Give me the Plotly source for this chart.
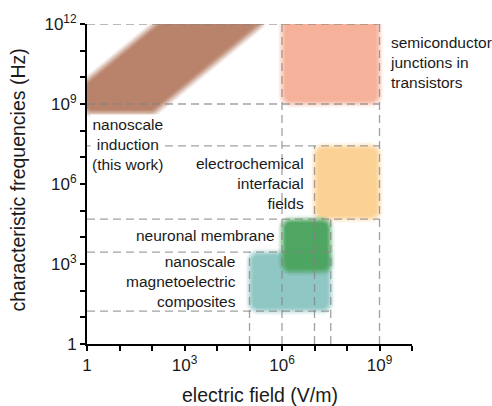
import numpy as np
import plotly.graph_objects as go

# ---------------- data ----------------
# nanoscale induction region (polygon corners, E in V/m, f in Hz)
nano_E = [0.8, 112, 7.08e5, 355, 0.8]
nano_f = [4.47e8, 4.47e8, 2.82e12, 2.82e12, 6.31e9]

# rectangular regions: E range and f range
rect_names = ["semiconductor", "electrochemical", "magnetoelectric", "neuronal"]
rect_E_lo = [1e6, 1e7, 1e5, 1e6]
rect_E_hi = [1e9, 1e9, 3.16e7, 3.16e7]
rect_f_lo = [1e9, 4.8e4, 17, 500]
rect_f_hi = [3e12, 2.7e7, 2.8e3, 4.8e4]

# dashed guide lines
hguide_f = [1e12, 1e9, 2.7e7, 4.8e4, 2.8e3, 17]
hguide_E_end = [1e9, 1e9, 1e9, 1e9, 3.16e7, 3.16e7]
vguide_E = [1e5, 1e6, 1e7, 3.16e7, 1e9]
vguide_f_end = [2.8e3, 1e12, 2.7e7, 4.8e4, 1e12]

x_tickvals = [10.0 ** k for k in range(0, 11)]
x_ticktext = ["1", "", "", "10<sup>3</sup>", "", "", "10<sup>6</sup>", "", "", "10<sup>9</sup>", ""]
y_tickvals = [10.0 ** k for k in range(0, 13)]
y_ticktext = ["1", "", "", "10<sup>3</sup>", "", "", "10<sup>6</sup>", "", "",
              "10<sup>9</sup>", "", "", "10<sup>12</sup>"]

# ---------------- styling ----------------
W, H = 492, 406
ML, MT = 87, 19
PW, PH = 325, 325
PX_X = PW / 10.0   # pixels per decade
PX_Y = PH / 12.0

col_nano = (183, 128, 105)
rect_cols = [(245, 176, 152), (251, 209, 146), (142, 198, 196), (76, 165, 96)]

FONT = "Liberation Sans, Arial, Helvetica, sans-serif"


def to_px(E, f):
    return np.log10(np.asarray(E, float)) * PX_X, np.log10(np.asarray(f, float)) * PX_Y


def from_px(u, v):
    return 10 ** (np.asarray(u) / PX_X), 10 ** (np.asarray(v) / PX_Y)


def offset_convex(pts, d):
    n = len(pts)
    lines = []
    for i in range(n):
        p, q = pts[i], pts[(i + 1) % n]
        e = q - p
        e = e / np.hypot(*e)
        nrm = np.array([e[1], -e[0]])
        lines.append((p + d * nrm, e))
    out = []
    for i in range(n):
        (p1, e1), (p2, e2) = lines[i - 1], lines[i]
        A = np.array([e1, -e2]).T
        t = np.linalg.solve(A, p2 - p1)
        out.append(p1 + t[0] * e1)
    return np.array(out)


def rounded_poly(pts, r, d):
    core = offset_convex(pts, -r)
    R = max(r + d, 0.0)
    n = len(core)
    out = []
    for i in range(n):
        pprev, p, pnext = core[i - 1], core[i], core[(i + 1) % n]
        e0 = p - pprev
        e1 = pnext - p
        n0 = np.arctan2(-e0[0], e0[1])
        n1 = np.arctan2(-e1[0], e1[1])
        if n1 < n0:
            n1 += 2 * np.pi
        for th in np.linspace(n0, n1, 10):
            out.append(p + R * np.array([np.cos(th), np.sin(th)]))
    out.append(out[0])
    return np.array(out)


# soft-edge layers (pixel offset, cumulative opacity)
offs = [4.0, 2.5, 1.0, -0.5, -2.0, -3.5]
cum = [0.1, 0.3, 0.5, 0.7, 0.88, 0.985]
alphas = []
prev = 0.0
for c in cum:
    alphas.append(1 - (1 - c) / (1 - prev))
    prev = c

fig = go.Figure()


def add_region(E, f, color, r=9.0):
    u, v = to_px(E, f)
    pts = np.column_stack([u, v])
    for d, a in zip(offs, alphas):
        poly = rounded_poly(pts, r, d)
        xe, yf = from_px(poly[:, 0], poly[:, 1])
        fig.add_trace(go.Scatter(
            x=xe, y=yf, mode="lines", fill="toself",
            line=dict(width=0, color="rgba(0,0,0,0)"),
            fillcolor="rgba(%d,%d,%d,%.3f)" % (color + (a,)),
            hoverinfo="skip", showlegend=False))


add_region(nano_E, nano_f, col_nano, r=8.0)
for i in range(len(rect_names)):
    E = [rect_E_lo[i], rect_E_hi[i], rect_E_hi[i], rect_E_lo[i]]
    f = [rect_f_lo[i], rect_f_lo[i], rect_f_hi[i], rect_f_hi[i]]
    add_region(E, f, rect_cols[i], r=9.0)

# guides
gx, gy = [], []
for fv, ee in zip(hguide_f, hguide_E_end):
    gx += [1, ee, None]
    gy += [fv, fv, None]
for ev, fe in zip(vguide_E, vguide_f_end):
    gx += [ev, ev, None]
    gy += [1, fe, None]
fig.add_trace(go.Scatter(x=gx, y=gy, mode="lines",
                         line=dict(color="rgba(130,130,130,0.75)", width=1.3, dash="8px,5px"),
                         hoverinfo="skip", showlegend=False, cliponaxis=False))


def px2paper(px, py):
    return (px - ML) / PW, (MT + PH - py) / PH


annots = [
    ("nanoscale<br>induction<br>(this work)", 127, 141, "center", "center", True),
    ("semiconductor<br>junctions in<br>transistors", 388, 58.5, "left", "left", False),
    ("electrochemical<br>interfacial<br>fields", 306, 180.5, "right", "right", False),
    ("neuronal membrane", 277, 233.5, "right", "right", False),
    ("nanoscale<br>magnetoelectric<br>composites", 238, 281, "right", "right", False),
]
for txt, px, py, xa, al, bg in annots:
    ax_, ay_ = px2paper(px, py)
    fig.add_annotation(text=txt, x=ax_, y=ay_, xref="paper", yref="paper",
                       xanchor=xa, yanchor="middle", align=al, showarrow=False,
                       font=dict(family=FONT, size=15.5, color="#1a1a1a"),
                       bgcolor="white" if bg else "rgba(0,0,0,0)", borderpad=1)

# axis titles
tx, ty = px2paper(260, 396)
fig.add_annotation(text="electric field (V/m)", x=tx, y=ty, xref="paper", yref="paper",
                   xanchor="center", yanchor="middle", showarrow=False,
                   font=dict(family=FONT, size=19.5, color="#1a1a1a"))
tx, ty = px2paper(18, 178)
fig.add_annotation(text="characteristic frequencies (Hz)", x=tx, y=ty, xref="paper", yref="paper",
                   xanchor="center", yanchor="middle", showarrow=False, textangle=-90,
                   font=dict(family=FONT, size=19.5, color="#1a1a1a"))

axis_common = dict(type="log", showgrid=False, zeroline=False, showline=True,
                   linecolor="black", linewidth=2, ticks="outside", ticklen=5,
                   tickwidth=2, tickcolor="black",
                   tickfont=dict(family=FONT, size=17, color="#1a1a1a"))
fig.update_xaxes(range=[0, 10], tickvals=x_tickvals, ticktext=x_ticktext, **axis_common)
fig.update_yaxes(range=[0, 12], tickvals=y_tickvals, ticktext=y_ticktext, **axis_common)

fig.update_layout(width=W, height=H, margin=dict(l=ML, r=W - ML - PW, t=MT, b=H - MT - PH),
                  plot_bgcolor="white", paper_bgcolor="white", showlegend=False)

fig.write_html("out.html", config={"displayModeBar": False},
               post_script="document.body.style.margin='0';")
